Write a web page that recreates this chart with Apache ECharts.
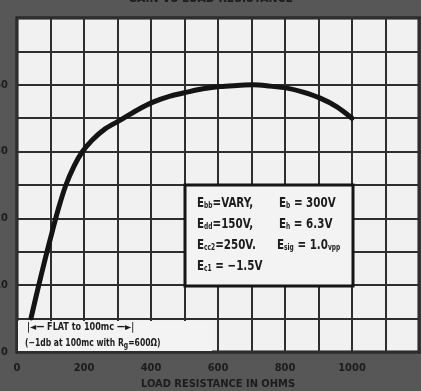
<!DOCTYPE html>
<html>
<head>
<meta charset="utf-8">
<script src="https://cdn.jsdelivr.net/npm/echarts@6/dist/echarts.min.js"></script>
<style>
  html, body { margin: 0; padding: 0; background: #575757; }
  #chart { width: 421px; height: 391px; }
</style>
</head>
<body>
<div id="chart"></div>
<script>
// Gain versus plate load resistance
const loadOhms = [42, 63, 84, 105, 125, 146, 170, 194, 224, 263, 308, 358, 406, 457, 508, 555, 606, 657, 705, 755, 806, 854, 905, 955, 1000];
const gain = [5.1, 9.6, 13.9, 18.0, 21.7, 25.0, 27.8, 29.9, 31.7, 33.4, 34.7, 36.2, 37.4, 38.3, 38.9, 39.4, 39.75, 39.9, 40.0, 39.8, 39.5, 38.9, 38.0, 36.7, 35.0];
const xTicks = [0, 200, 400, 600, 800, 1000];
const yTicks = [0, 10, 20, 30, 40];

const titleText = 'GAIN VS LOAD RESISTANCE';
const xName = 'LOAD RESISTANCE IN OHMS';

const ink = '#1c1c1c';
const narrow = '"DejaVu Sans Condensed", "Liberation Sans Narrow", sans-serif';

const chart = echarts.init(document.getElementById('chart'), null, { renderer: 'canvas' });

const sub = { s: { fontSize: 8, fontWeight: 'bold', fontFamily: narrow, fill: ink, verticalAlign: 'bottom', padding: [6, 0, 0, 0] } };

function condText(x, y, str, size, sx) {
  return {
    type: 'text', x: x, y: y, z: 20, scaleX: sx || 0.82,
    style: { text: str, fontSize: size, fontWeight: 'bold', fontFamily: narrow, fill: ink, rich: sub }
  };
}

chart.setOption({
  backgroundColor: '#575757',
  animation: false,
  title: {
    text: titleText, left: 'center', top: -12,
    textStyle: { color: ink, fontSize: 12, fontWeight: 'bold', fontFamily: narrow }
  },
  grid: {
    left: 17, right: 2, top: 18, bottom: 39,
    outerBoundsMode: 'none', containLabel: false,
    show: true, backgroundColor: '#f1f1f1', borderColor: '#151515', borderWidth: 3
  },
  xAxis: {
    type: 'value', min: 0, max: 1200, interval: 100,
    name: xName, nameLocation: 'middle', nameGap: 27,
    nameTextStyle: { color: ink, fontSize: 11, fontWeight: 'bold', fontFamily: narrow },
    axisLine: { show: false }, axisTick: { show: false },
    splitLine: { lineStyle: { color: '#2e2e2e', width: 2 } },
    axisLabel: {
      color: ink, fontSize: 11, fontWeight: 'bold', fontFamily: narrow, margin: 11,
      formatter: v => (xTicks.includes(v) ? String(v) : '')
    }
  },
  yAxis: {
    type: 'value', min: 0, max: 50, interval: 5,
    axisLine: { show: false }, axisTick: { show: false },
    splitLine: { lineStyle: { color: '#2e2e2e', width: 2 } },
    axisLabel: {
      color: ink, fontSize: 11, fontWeight: 'bold', fontFamily: narrow, margin: 9,
      formatter: v => (yTicks.includes(v) ? String(v) : '')
    }
  },
  series: [{
    type: 'line',
    data: loadOhms.map((x, i) => [x, gain[i]]),
    smooth: 0.3,
    showSymbol: false,
    lineStyle: { color: '#141414', width: 5, cap: 'round' },
    z: 5
  }],
  graphic: [
    // operating conditions box
    {
      type: 'rect', x: 185, y: 185, z: 15,
      shape: { width: 168, height: 101 },
      style: { fill: '#f3f3f3', stroke: '#151515', lineWidth: 3 }
    },
    condText(197, 196, 'E{s|bb}=VARY,', 14),
    condText(279, 196, 'E{s|b} = 300V', 14),
    condText(197, 217, 'E{s|dd}=150V,', 14),
    condText(279, 217, 'E{s|h} = 6.3V', 14),
    condText(197, 238, 'E{s|cc2}=250V.', 14),
    condText(277, 238, 'E{s|sig} = 1.0{s|vpp}', 14),
    condText(197, 259, 'E{s|c1} = \u22121.5V', 14),
    // bandwidth note in bottom row
    {
      type: 'rect', x: 18, y: 321, z: 15,
      shape: { width: 194, height: 30 },
      style: { fill: '#f3f3f3' }
    },
    condText(27, 322, '|\u25C4\u2014 FLAT to 100mc \u2014\u25BA|', 10, 0.9),
    condText(25, 336, '(\u22121db at 100mc with R{s|g}=600\u03A9)', 10, 0.85)
  ]
});
</script>
</body>
</html>
